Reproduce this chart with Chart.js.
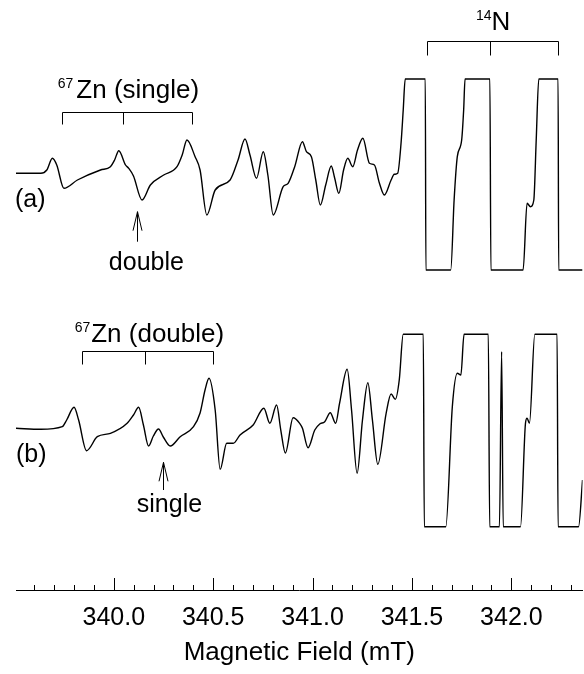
<!DOCTYPE html>
<html lang="en">
<head>
<meta charset="UTF-8">
<title>EPR spectra (a) / (b)</title>
<script src="https://cdn.jsdelivr.net/npm/chart.js"></script>
<style>
    html, body { margin: 0; padding: 0; background: #fff; }
    #caixa { width: 584px; height: 674px; position: relative; }
</style>
</head>
<body>
<div id="caixa"><canvas id="grafEpr"></canvas></div>

<script>
// spectrum (a): field in mT, signal in arbitrary units
const fieldA = [339.508, 339.633, 339.663, 339.691, 339.713, 339.749, 339.817, 339.933, 339.983, 340.004,
    340.025, 340.059, 340.075, 340.099, 340.142, 340.184, 340.251, 340.318, 340.344, 340.368,
    340.409, 340.434, 340.468, 340.510, 340.585, 340.625, 340.660, 340.685, 340.718, 340.752,
    340.775, 340.802, 340.852, 340.877, 340.910, 340.949, 340.969, 340.994, 341.016, 341.039,
    341.066, 341.094, 341.111, 341.132, 341.156, 341.177, 341.202, 341.226, 341.253, 341.286,
    341.311, 341.336, 341.361, 341.395, 341.411, 341.428, 341.445, 341.456, 341.466, 341.567,
    341.570, 341.695, 341.712, 341.728, 341.750, 341.760, 341.767, 341.892, 341.897, 342.059,
    342.079, 342.096, 342.113, 342.125, 342.138, 342.235, 342.238, 342.358];
const signalA = [-0.3, -0.3, 3, 14.7, 8, -15.3, -7, 3, 6.3, 13,
    22.3, 8, 4.7, -3, -27, -12, -2, 6.3, 18, 33,
    16.3, 3, -42, -17, -7, 13, 34, 18, -5.3, 21.3,
    -2, -42, -13.7, -10.3, 6.3, 31.3, 21.3, 16.3, -7, -32,
    -12, 7, -5, -20.3, 3, 14.7, 6.3, 23, 34.7, 9.7,
    8, -10, -22, -7, -1.3, -0.3, 29.7, 63, 94, 94,
    -97, -97, -27, 16.3, 33, 63, 94, 94, -97, -97,
    -30.3, -33.7, -27, 33, 94, 94, -97, -97];

// spectrum (b)
const fieldB = [339.508, 339.633, 339.741, 339.763, 339.800, 339.823, 339.863, 339.917, 339.983, 340.067,
    340.099, 340.125, 340.149, 340.175, 340.199, 340.225, 340.249, 340.284, 340.334, 340.401,
    340.434, 340.459, 340.479, 340.510, 340.535, 340.568, 340.601, 340.635, 340.701, 340.755,
    340.785, 340.819, 340.840, 340.863, 340.902, 340.935, 340.949, 340.977, 341.011, 341.036,
    341.061, 341.089, 341.116, 341.136, 341.174, 341.196, 341.224, 341.251, 341.278, 341.301,
    341.328, 341.370, 341.395, 341.416, 341.436, 341.456, 341.557, 341.562, 341.670, 341.703,
    341.728, 341.746, 341.762, 341.884, 341.891, 341.940, 341.951, 341.959, 342.046, 342.071,
    342.079, 342.091, 342.118, 342.230, 342.235, 342.338, 342.358];
const signalB = [-0.3, -1.3, 1.3, 8, 20.7, 8, -22.7, -8.7, -5.3, 4.7,
    13, 20.7, 3, -18, -8, -1, -9, -18, -8.7, 1.3,
    15, 38, 49.7, 18, -41.3, -15.3, -15.3, -7, 3, 19.7,
    4.7, 23, -2, -25, 10.3, 4.7, -0.3, -19.7, -2, 4,
    6.3, 15.3, 4.7, 25, 58.7, 18, -45.3, 8, 45.3, 8,
    -36.3, 14.7, 34, 28.7, 48, 93.7, 93.7, -98.7, -98.7, 21.3,
    54.7, 53, 93.7, 93.7, -98.7, -98.7, 76.3, -98.7, -98.7, 4.7,
    9.7, 4.7, 93.7, 93.7, -98.7, -98.7, -52];

const deslocB = -255;            // vertical offset of trace (b)

const marcasMaiores = [340.0, 340.5, 341.0, 341.5, 342.0];
const passoMenor = 0.1;

// stick diagrams (field positions, mT)
const znSingle = [339.741, 340.045, 340.393];
const znDouble = [339.842, 340.159, 340.501];
const n14 = [341.578, 341.892, 342.237];

const FONTE = '"Liberation Sans", Arial, Helvetica, sans-serif';

function ehMaior(v) {
    return marcasMaiores.some(m => Math.abs(m - v) < 1e-6);
}

const pontosA = fieldA.map((x, i) => ({ x: x, y: signalA[i] }));
const pontosB = fieldB.map((x, i) => ({ x: x, y: signalB[i] + deslocB }));

const decoracao = {
    id: 'decoracao',
    afterDraw(chart) {
        const ctx = chart.ctx;
        const sx = chart.scales.x, sy = chart.scales.y;
        const px = v => sx.getPixelForValue(v);
        const py = v => sy.getPixelForValue(v);

        ctx.save();
        ctx.strokeStyle = '#000';
        ctx.fillStyle = '#000';
        ctx.lineWidth = 1;

        // ticks pointing up from the axis line
        const base = sx.top;
        sx.ticks.forEach(t => {
            const x = Math.round(px(t.value)) + 0.5;
            ctx.beginPath();
            ctx.moveTo(x, base);
            ctx.lineTo(x, base - (ehMaior(t.value) ? 12 : 5));
            ctx.stroke();
        });

        function colchete(xs, yv, queda) {
            const y = Math.round(py(yv)) + 0.5;
            const xx = xs.map(v => Math.round(px(v)) + 0.5);
            ctx.beginPath();
            ctx.moveTo(xx[0], y);
            ctx.lineTo(xx[xx.length - 1], y);
            xx.forEach(x => { ctx.moveTo(x, y); ctx.lineTo(x, y + queda); });
            ctx.stroke();
        }

        function isotopo(massa, resto, xv, yv, gap) {
            const x = px(xv), y = py(yv);
            ctx.textAlign = 'left';
            ctx.textBaseline = 'alphabetic';
            ctx.font = '14px ' + FONTE;
            ctx.fillText(massa, x, y - 10);
            const w = ctx.measureText(massa).width;
            ctx.font = '26px ' + FONTE;
            ctx.fillText(resto, x + w + gap, y);
        }

        function seta(xv, ponta, cauda) {
            const x = Math.round(px(xv)) + 0.5;
            const y0 = py(ponta), y1 = py(cauda);
            ctx.beginPath();
            ctx.moveTo(x, y0); ctx.lineTo(x, y1);
            ctx.moveTo(x - 4.5, y0 + 19); ctx.lineTo(x, y0); ctx.lineTo(x + 4.5, y0 + 19);
            ctx.stroke();
        }

        function texto(t, xv, yv, alinha, linhaBase) {
            ctx.font = '25px ' + FONTE;
            ctx.textAlign = alinha;
            ctx.textBaseline = linhaBase;
            ctx.fillText(t, px(xv), py(yv));
        }

        colchete(znSingle, 61.3, 12);
        colchete(znDouble, -177.7, 13);
        colchete(n14, 132, 14);

        isotopo('67', 'Zn (single)', 339.718, 74.7, 3);
        isotopo('67', 'Zn (double)', 339.803, -168.7, 1);
        isotopo('14', 'N', 341.822, 143, 0);

        texto('(a)', 339.503, -27, 'left', 'middle');
        texto('(b)', 339.508, -282, 'left', 'middle');
        texto('double', 340.164, -97, 'center', 'alphabetic');
        texto('single', 340.280, -339, 'center', 'alphabetic');

        seta(340.117, -38.7, -68.7);
        seta(340.250, -289.3, -317);

        ctx.restore();
    }
};

const config = {
    type: 'line',
    data: {
        datasets: [{
            label: '(a)',
            data: pontosA,
            borderColor: '#000',
            borderWidth: 1.4,
            pointRadius: 0,
            fill: false,
            cubicInterpolationMode: 'monotone'
        }, {
            label: '(b)',
            data: pontosB,
            borderColor: '#000',
            borderWidth: 1.4,
            pointRadius: 0,
            fill: false,
            cubicInterpolationMode: 'monotone'
        }]
    },
    options: {
        responsive: true,
        maintainAspectRatio: false,
        animation: false,
        layout: { padding: { left: 16, right: 0, top: 0, bottom: 0 } },
        plugins: {
            legend: { display: false },
            tooltip: { enabled: false }
        },
        scales: {
            x: {
                type: 'linear',
                min: 339.508,
                max: 342.358,
                afterFit: (scale) => { scale.height = 84; },
                grid: { display: false, drawTicks: false },
                border: { display: true, color: '#000', width: 1 },
                ticks: {
                    stepSize: passoMenor,
                    includeBounds: false,
                    autoSkip: false,
                    maxRotation: 0,
                    minRotation: 0,
                    padding: 13,
                    color: '#000',
                    font: { family: FONTE, size: 25 },
                    callback: (v) => ehMaior(v) ? Number(v).toFixed(1) : ''
                },
                title: {
                    display: true,
                    text: 'Magnetic Field (mT)',
                    color: '#000',
                    font: { family: FONTE, size: 26 },
                    padding: { top: 0, bottom: 6 }
                }
            },
            y: {
                display: false,
                min: -417,
                max: 173
            }
        }
    },
    plugins: [decoracao]
};

new Chart(document.getElementById('grafEpr'), config);
</script>
</body>
</html>
